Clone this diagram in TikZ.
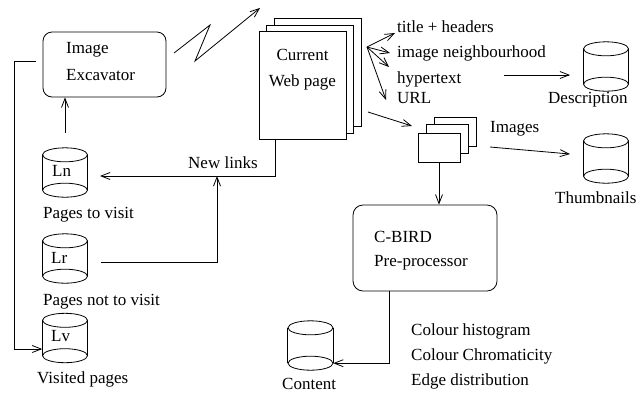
\documentclass[tikz,border=0pt]{standalone}
\usepackage{fontspec}
\setmainfont{Liberation Serif}
\usetikzlibrary{arrows.meta}

% a database drum: name, centre x, centre y
\newcommand\drum[3]{%
  \node[drumbox] (#1) at (#2,#3) {};
  \draw[ln] ([yshift=-7pt]#1.north) ellipse [x radius=22.5pt, y radius=7pt];
  \draw[ln] ([yshift=7pt]#1.south) ellipse [x radius=22.5pt, y radius=7pt];
  \draw[ln] ([yshift=-7pt]#1.north west) -- ([yshift=7pt]#1.south west);
  \draw[ln] ([yshift=-7pt]#1.north east) -- ([yshift=7pt]#1.south east);
}

\tikzset{
  ln/.style={line width=0.8pt},
  arr/.style={ln, -{Straight Barb[length=9pt,width=7pt]}},
  txt/.style={font=\fontsize{17}{20}\selectfont, inner sep=0pt, anchor=base west},
  ctxt/.style={txt, anchor=base},
  procbox/.style={ln, draw, rounded corners=9pt, inner sep=0pt},
  sheet/.style={ln, draw, fill=white, inner sep=0pt, minimum width=87pt, minimum height=108pt},
  thumb/.style={ln, draw, fill=white, inner sep=0pt, minimum width=42pt, minimum height=29pt},
  drumbox/.style={inner sep=0pt, minimum width=45pt, minimum height=49pt},
}

\begin{document}
\begin{tikzpicture}[x=1pt, y=-1pt]
\useasboundingbox (0,0) rectangle (636,392);

% crawler
\node[procbox, minimum width=123pt, minimum height=65pt] (exc) at (104.5,64.5) {};
\node[txt] (excA) at (66,53) {Image};
\node[txt] (excB) at (66,80) {Excavator};

% current web page (stack of sheets)
\node[sheet] (pgc) at (317.5,72) {};
\node[sheet] (pgb) at (310,79) {};
\node[sheet] (pga) at (302.5,85.5) {};
\node[ctxt] (pgaA) at (302.5,60) {Current};
\node[ctxt] (pgaB) at (302.5,86) {Web page};

% link lists
\drum{Ln}{65}{172.5}
\drum{Lr}{65}{258.5}
\drum{Lv}{65}{338}
\node[txt] (LnT) at (52,176) {Ln};
\node[txt] (LrT) at (51,263) {Lr};
\node[txt] (LvT) at (51,341) {Lv};
\node[txt] (LnL) at (43,218) {Pages to visit};
\node[txt] (LrL) at (43,305) {Pages not to visit};
\node[txt] (LvL) at (37,383) {Visited pages};

% text features
\node[txt] (f1) at (397,32) {title + headers};
\node[txt] (f2) at (397,57) {image neighbourhood};
\node[txt] (f3) at (397,83) {hypertext};
\node[txt] (f4) at (397,103) {URL};

% stores
\drum{desc}{606}{66.5}
\drum{thn}{606}{158.5}
\drum{cnt}{310.5}{345.5}
\node[txt] (descL) at (548,103) {Description};
\node[txt] (thnL) at (555,203) {Thumbnails};
\node[txt] (cntL) at (282,389) {Content};

% images
\node[thumb] (imc) at (455,131.5) {};
\node[thumb] (imb) at (447.5,139) {};
\node[thumb] (ima) at (439,147.5) {};
\node[txt] (imL) at (490,132) {Images};

% pre-processor
\node[procbox, rounded corners=10pt, minimum width=144pt, minimum height=86pt] (cb) at (425,248) {};
\node[txt] (cbA) at (374,242) {C-BIRD};
\node[txt] (cbB) at (374,266) {Pre-processor};
\node[txt] (c1) at (411,335) {Colour histogram};
\node[txt] (c2) at (411,360) {Colour Chromaticity};
\node[txt] (c3) at (411,385) {Edge distribution};

% connector ends
\coordinate (zz0) at (174,53);
\coordinate (zz1) at (210,25);
\coordinate (zz2) at (195,61);
\coordinate (zz3) at (260,8);
\coordinate (loop0) at (36,61);
\coordinate (loop1) at (14,61);
\coordinate (lnin) at (100,176);
\coordinate (lrout) at (101,262);
\coordinate (nlj) at (217,176);
\coordinate (fan) at (367,47);
\coordinate (t1) at (395,33);
\coordinate (t2) at (390,53);
\coordinate (t3) at (389,67);
\coordinate (t4) at (386,100);
\coordinate (hx0) at (504,75);
\coordinate (hx1) at (570,75);
\coordinate (pi0) at (368,112);
\coordinate (pi1) at (412,126);
\coordinate (it0) at (490,147);
\coordinate (it1) at (570,154);

% connectors
\draw[arr] (zz0) -- (zz1) -- (zz2) -- (zz3);
\draw[arr] ([yshift=15pt]Ln.north) -- (Ln.north |- exc.south);
\draw[arr] (loop0) -- (loop1) |- ([yshift=-11pt]Lv.west);
\draw[arr] ([xshift=-27.5pt]pga.south) |- (lnin);
\node[txt] (nlL) at (188,168) {New links};
\draw[arr] (lrout) -| (nlj);
\foreach \t in {t1,t2,t3,t4} \draw[arr] (fan) -- (\t);
\draw[arr] (hx0) -- (hx1);
\draw[arr] (pi0) -- (pi1);
\draw[arr] (it0) -- (it1);
\draw[arr] (ima.south) -- (ima.south |- cb.north);
\draw[arr] ([xshift=-36pt]cb.south) |- ([yshift=7pt]cnt.south east);
\end{tikzpicture}
\end{document}
